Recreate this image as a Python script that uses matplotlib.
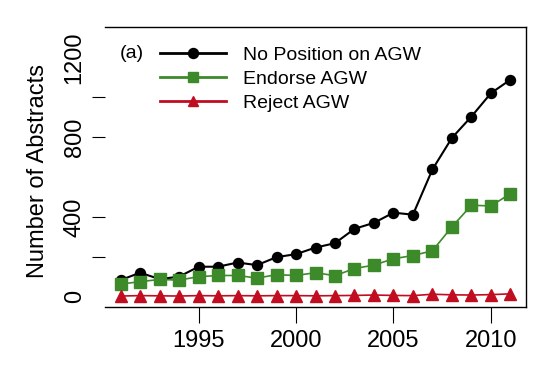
import matplotlib
matplotlib.use("Agg")
import matplotlib.pyplot as plt
from matplotlib.lines import Line2D

plt.rcParams['font.family'] = ['Liberation Sans', 'DejaVu Sans']

years = list(range(1991, 2012))
no_position = [83, 120, 88, 100, 150, 150, 171, 158, 198, 213, 246, 268, 340, 370,
               421, 411, 638, 796, 903, 1020, 1088]
endorse = [63, 75, 86, 83, 100, 106, 106, 93, 110, 106, 120, 105, 141, 158,
           190, 206, 230, 350, 458, 455, 516]
reject = [3, 5, 4, 3, 5, 4, 5, 4, 5, 5, 4, 5, 6, 8, 6, 5, 12, 9, 8, 10, 14]

series_labels = ["No Position on AGW", "Endorse AGW", "Reject AGW"]
xtick_vals = [1995, 2000, 2005, 2010]
ytick_label_vals = [0, 400, 800, 1200]
ytick_mark_vals = [200, 400, 800, 1000]

BLACK = "#000000"
GREEN = "#3d8a2a"
RED = "#c00d20"

fig = plt.figure(figsize=(5.51, 3.67), dpi=100)
ax = fig.add_axes([105/551, 1-307/367, 421/551, 280/367])

ax.plot(years, no_position, color=BLACK, lw=1.5, marker='o', ms=7.2, zorder=3)
ax.plot(years, endorse, color=GREEN, lw=1.2, marker='s', ms=8, zorder=4)
ax.plot(years, reject, color=RED, lw=1.2, marker='^', ms=9, zorder=5)

ax.set_xlim(1990.2, 2011.8)
ax.set_ylim(-52, 1352)

ax.spines['left'].set_visible(False)
for s in ['top', 'right', 'bottom']:
    ax.spines[s].set_linewidth(1.0)

ax.set_xticks(xtick_vals)
ax.set_xticklabels([str(v) for v in xtick_vals], fontsize=17)
ax.tick_params(axis='x', direction='out', length=11.5, width=0.8, pad=5)

all_y = sorted(set(ytick_label_vals) | set(ytick_mark_vals))
ax.set_yticks(all_y)
ax.set_yticklabels([str(v) if v in ytick_label_vals else "" for v in all_y],
                   fontsize=17, rotation=90, va='center')
ax.tick_params(axis='y', which='major', direction='out', length=9.4,
               width=0.8, pad=4.5)
for v, t in zip(all_y, ax.yaxis.get_major_ticks()):
    if v not in ytick_mark_vals:
        t.tick1line.set_visible(False)

ax.set_ylabel("Number of Abstracts", fontsize=17, va='center')
ax.yaxis.set_label_coords(-0.158, 0.484)

handles = [
    Line2D([], [], color=BLACK, lw=2, marker='o', ms=7.2),
    Line2D([], [], color=GREEN, lw=2, marker='s', ms=7),
    Line2D([], [], color=RED, lw=2, marker='^', ms=7.5),
]
leg = fig.legend(handles, series_labels, loc='upper left',
                 bbox_to_anchor=(160/551, 1-46/367), frameon=False,
                 fontsize=14, handlelength=3.4, handletextpad=0.85,
                 labelspacing=0.33, borderpad=0, borderaxespad=0)
fig.text(120/551, 1-53/367, "(a)", fontsize=14, va='center', ha='left')

fig.savefig("out.png", dpi=100)
